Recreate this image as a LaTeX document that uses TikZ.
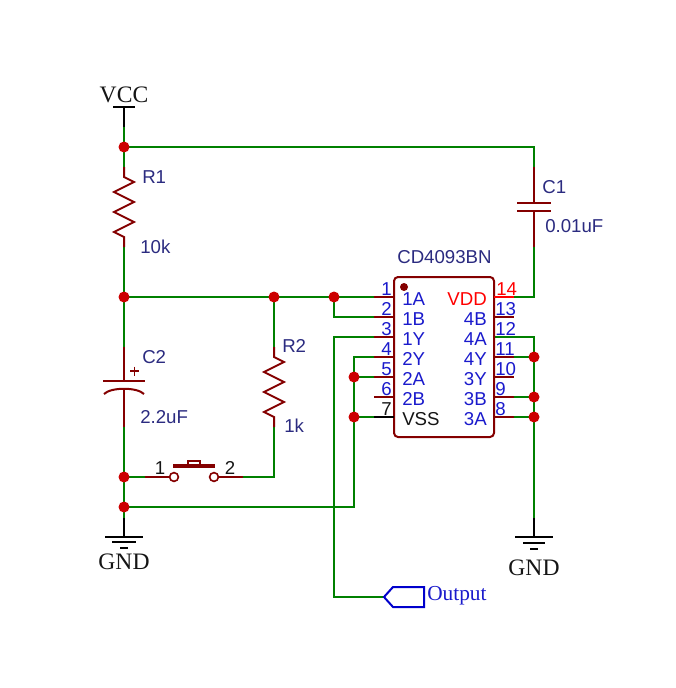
\documentclass[tikz,border=0pt]{standalone}
\usepackage{fontspec}
\usetikzlibrary{backgrounds}
\setmainfont{Liberation Sans}
\newfontfamily\serifface{Liberation Serif}
\definecolor{wirec}{HTML}{008000}
\definecolor{partc}{HTML}{840000}
\definecolor{junc}{HTML}{CC0000}
\definecolor{labc}{HTML}{2B2B80}
\definecolor{pinc}{HTML}{1A1ACC}
\definecolor{vddc}{HTML}{FF0000}
\definecolor{inkc}{HTML}{151515}
\tikzset{
  wire/.style={draw=wirec,line width=1.5pt},
  part/.style={draw=partc,line width=1.5pt},
  pwr/.style={draw=black,line width=1.5pt},
  dotj/.style={circle,fill=junc,draw=none,minimum size=8.25pt,inner sep=0pt},
  lab/.style={anchor=base west,inner sep=0pt,text=labc,font=\fontsize{14}{14}\selectfont},
  pinname/.style={inner sep=0pt,text=pinc,font=\fontsize{14}{14}\selectfont},
  pinnum/.style={inner sep=0pt,text=pinc,font=\fontsize{14}{14}\selectfont},
  pwrlab/.style={anchor=base,inner sep=0pt,text=inkc,font=\serifface\fontsize{17.7}{17.7}\selectfont},
  swnum/.style={anchor=base,inner sep=0pt,text=inkc,font=\fontsize{14}{14}\selectfont},
  contact/.style={circle,draw=partc,fill=white,line width=1.2pt,minimum size=6.6pt,inner sep=0pt}
}
\begin{document}
\begin{tikzpicture}[x=0.75pt,y=-0.75pt,line join=miter,line cap=butt]
\useasboundingbox (0,0) rectangle (675,688);
% coordinates
\coordinate (vcc) at (124,107);
\coordinate (vccw) at (124,127);
\coordinate (r1a) at (124,167);
\coordinate (r1z) at (124,177);
\coordinate (r1b) at (124,247);
\coordinate (c2a) at (124,347);
\coordinate (c2p) at (124,381);
\coordinate (c2n) at (124,389);
\coordinate (c2b) at (124,427);
\coordinate (r2a) at (274,347);
\coordinate (r2z) at (274,357);
\coordinate (r2b) at (274,427);
\coordinate (sw1) at (145,477);
\coordinate (sw2) at (243,477);
\coordinate (corner2) at (274,477);
\coordinate (gl) at (124,518);
\coordinate (gltop) at (124,537);
\coordinate (gr) at (534,518);
\coordinate (grtop) at (534,537);
\coordinate (c1a) at (534,167);
\coordinate (c1p) at (534,203);
\coordinate (c1n) at (534,211);
\coordinate (c1b) at (534,247);
\coordinate (tr) at (534,147);
\coordinate (p14) at (534,297);
\coordinate (p12) at (534,337);
\coordinate (k3) at (334,337);
\coordinate (k3b) at (334,597);
\coordinate (k2) at (334,317);
\coordinate (k4) at (354,357);
\coordinate (k4b) at (354,507);
% IC
\draw[part,rounded corners=3pt] (394,277) rectangle (494,437);
\fill[partc] (404,287) circle[radius=3pt];
\foreach \i/\y in {1/297,2/317,3/337,4/357,5/377,6/397}{
  \coordinate (L\i) at (374,\y); \coordinate (Li\i) at (394,\y);
  \draw[part] (L\i) -- (Li\i);
}
\coordinate (L7) at (374,417); \coordinate (Li7) at (394,417);
\draw[pwr] (L7) -- (Li7);
\foreach \i/\y in {14/297,13/317,12/337,11/357,10/377,9/397,8/417}{
  \coordinate (R\i) at (514,\y); \coordinate (Ri\i) at (494,\y);
}
\draw[draw=vddc,line width=1.5pt] (Ri14) -- (R14);
\foreach \i in {13,11,10,9,8}{ \draw[part] (Ri\i) -- (R\i); }
% junctions
\node[dotj] (j1) at (124,147) {};
\node[dotj] (j2) at (124,297) {};
\node[dotj] (j3) at (274,297) {};
\node[dotj] (j4) at (334,297) {};
\node[dotj] (j5) at (124,477) {};
\node[dotj] (j6) at (124,507) {};
\node[dotj] (j7) at (354,377) {};
\node[dotj] (j8) at (354,417) {};
\node[dotj] (j9) at (534,357) {};
\node[dotj] (j10) at (534,397) {};
\node[dotj] (j11) at (534,417) {};
% wires, under the junction dots
\begin{scope}[on background layer]
\fill[white] (0,0) rectangle (675,688);
\draw[wire] (vccw) -- (j1.center) -- (r1a);
\draw[wire] (j1.center) -- (tr) -- (c1a);
\draw[wire] (c1b) -- (p14) -- (R14);
\draw[wire] (r1b) -- (j2.center) -- (c2a);
\draw[wire] (j2.center) -- (L1);
\draw[wire] (j3.center) -- (r2a);
\draw[wire] (j4.center) -- (k2) -- (L2);
\draw[wire] (L3) -- (k3) -- (k3b) -- (384,597);
\draw[wire] (L4) -- (k4) -- (k4b) -- (j6.center);
\draw[wire] (j7.center) -- (L5);
\draw[wire] (j8.center) -- (L7);
\draw[wire] (c2b) -- (j5.center) -- (j6.center) -- (gl);
\draw[wire] (j5.center) -- (sw1);
\draw[wire] (sw2) -- (corner2) -- (r2b);
\draw[wire] (Ri12) -- (p12) -- (gr);
\draw[wire] (R11) -- (j9.center);
\draw[wire] (R9) -- (j10.center);
\draw[wire] (R8) -- (j11.center);
\end{scope}
% power symbols
\draw[pwr] (vcc) -- (vccw);
\draw[pwr] (113,107) -- (135,107);
\draw[pwr] (gl) -- (gltop);
\draw[pwr] (105,537) -- (143,537);
\draw[pwr] (112,542) -- (136,542);
\draw[pwr] (120,547.5) -- (128,547.5);
\draw[pwr] (gr) -- (grtop);
\draw[pwr] (515,537) -- (553,537);
\draw[pwr] (523,543) -- (545,543);
\draw[pwr] (530,549) -- (538,549);
% R1
\draw[part] (r1a) -- (r1z) -- (134,182) -- (114,192) -- (134,202) -- (114,212) -- (134,222) -- (114,232) -- (124,237) -- (r1b);
% R2
\draw[part] (r2a) -- (r2z) -- (284,362) -- (264,372) -- (284,382) -- (264,392) -- (284,402) -- (264,412) -- (274,417) -- (r2b);
% C1
\draw[part] (c1a) -- (c1p);
\draw[part] (517,203) -- (551,203);
\draw[part] (517,211) -- (551,211);
\draw[part] (c1n) -- (c1b);
% C2
\draw[part] (c2a) -- (c2p);
\draw[part] (103,381) -- (145,381);
\draw[part] (c2n) -- (c2b);
\draw[part] (104,394) .. controls (111,387) and (137,387) .. (144,394);
\draw[partc,line width=1.1pt] (130,371) -- (139,371) (134.5,366.5) -- (134.5,375.5);
% switch
\draw[part] (sw1) -- (170,477);
\draw[part] (218,477) -- (sw2);
\node[contact] (sc1) at (174,477) {};
\node[contact] (sc2) at (214,477) {};
\draw[partc,line width=2.4pt] (173,466) -- (215,466);
\draw[partc,line width=1.1pt] (188,466) -- (188,461) -- (200,461) -- (200,466);
% flag
\draw[draw=blue!80!black,line width=1.5pt] (384,597) -- (393,587) -- (424,587) -- (424,607) -- (393,607) -- cycle;
% labels
\node[pwrlab] (tvcc) at (124,103) {VCC};
\node[pwrlab] (tg1) at (124,569) {GND};
\node[pwrlab] (tg2) at (534,575) {GND};
\node[anchor=base west,inner sep=0pt,text=pinc,font=\serifface\fontsize{16}{16}\selectfont] (tout) at (427,600) {Output};
\node[lab] (tr1) at (142,183) {R1};
\node[lab] (tr1v) at (140,253) {10k};
\node[lab] (tr2) at (282,352) {R2};
\node[lab] (tr2v) at (284,432) {1k};
\node[lab] (tc1) at (542,193) {C1};
\node[lab] (tc1v) at (545,232) {0.01uF};
\node[lab] (tc2) at (142,363) {C2};
\node[lab] (tc2v) at (140,423) {2.2uF};
\node[lab] (tic) at (397,263) {CD4093BN};
\node[swnum] (ts1) at (160,474) {1};
\node[swnum] (ts2) at (230,474) {2};
% pin names
\foreach \n/\y in {1A/305,1B/325,1Y/345,2Y/365,2A/385,2B/405}{
  \node[pinname,anchor=base west] at (402,\y) {\n};
}
\node[pinname,anchor=base west,text=inkc] (tvss) at (402,425) {VSS};
\node[pinname,anchor=base east,text=vddc] (tvdd) at (487,305) {VDD};
\foreach \n/\y in {4B/325,4A/345,4Y/365,3Y/385,3B/405,3A/425}{
  \node[pinname,anchor=base east] at (487,\y) {\n};
}
\foreach \n/\y in {1/295,2/315,3/335,4/355,5/375,6/395}{
  \node[pinnum,anchor=base east] at (392,\y) {\n};
}
\node[pinnum,anchor=base east,text=inkc] (t7) at (392,415) {7};
\node[pinnum,anchor=base west,text=vddc] (t14) at (496,295) {14};
\foreach \n/\y in {13/315,12/335,11/355,10/375,9/395,8/415}{
  \node[pinnum,anchor=base west] at (495,\y) {\n};
}
\end{tikzpicture}
\end{document}
